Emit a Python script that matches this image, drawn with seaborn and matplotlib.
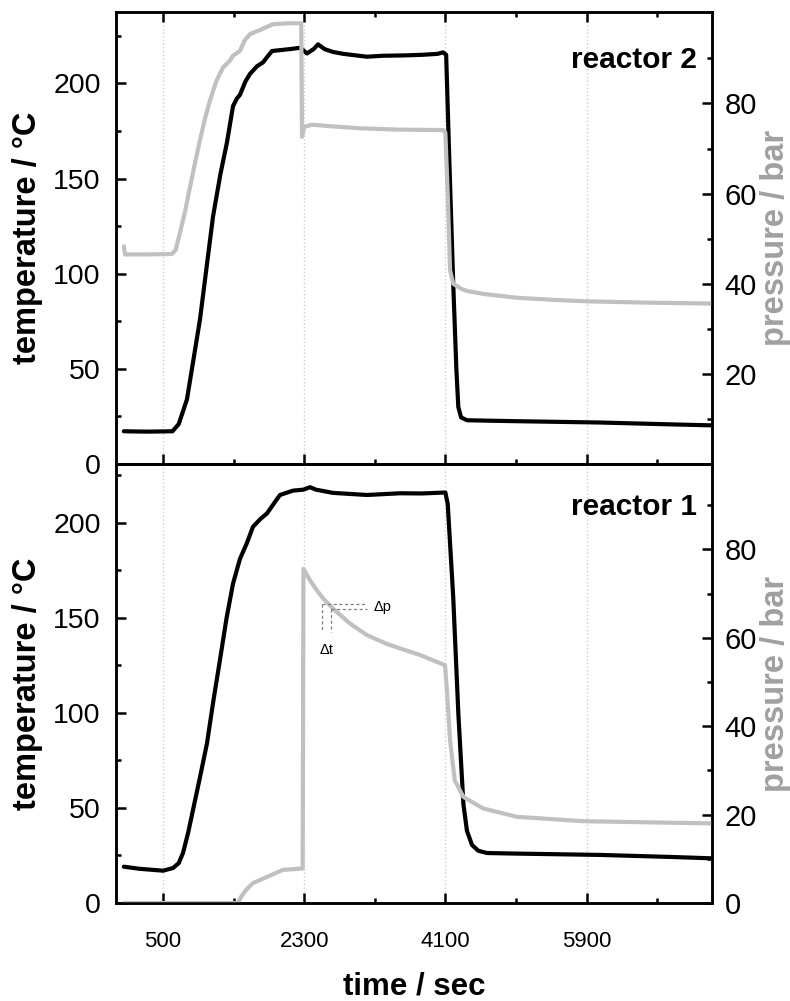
import matplotlib
matplotlib.use("Agg")
import matplotlib.pyplot as plt
import seaborn as sns
from matplotlib.ticker import FixedLocator

# reactor 2 (upper panel)
r2_time_T = [0, 300, 620, 700, 805, 900, 971, 1060, 1137, 1230, 1315, 1392, 1440, 1481,
             1550, 1609, 1698, 1774, 1830, 1889, 2000, 2118, 2246, 2300, 2335, 2420, 2476,
             2560, 2667, 2800, 3100, 3300, 3577, 3800, 4000, 4070, 4110, 4150, 4200, 4240,
             4265, 4300, 4375, 4600, 5000, 6071, 7000, 7500]
r2_temp = [17.2, 17.0, 17.2, 21.0, 34.0, 58.0, 76.0, 105.0, 130.0, 152.0, 169.0, 188.0, 192.0,
           194.0, 201.0, 205.0, 209.0, 211.0, 214.0, 217.0, 217.5, 218.0, 218.7, 217.0, 215.7,
           218.0, 220.5, 218.0, 216.5, 215.5, 214.0, 214.5, 214.7, 215.0, 215.5, 216.3, 215.0,
           160.0, 95.0, 50.0, 30.0, 24.5, 23.0, 22.8, 22.5, 21.8, 20.8, 20.3]
r2_time_p = [0, 15, 300, 612, 660, 716, 780, 844, 910, 971, 1040, 1099, 1180, 1265, 1353,
             1392, 1481, 1540, 1609, 1736, 1902, 2100, 2262, 2272, 2300, 2400, 2600, 3000,
             3500, 4070, 4100, 4130, 4160, 4200, 4300, 4375, 4600, 5010, 5500, 5900, 6700, 7500]
r2_press = [48.3, 46.5, 46.5, 46.6, 47.5, 51.3, 56.0, 61.5, 67.0, 71.9, 77.0, 80.7, 85.0, 88.0,
            89.5, 90.6, 91.7, 94.0, 95.4, 96.3, 97.6, 97.8, 97.8, 72.6, 74.8, 75.3, 75.0, 74.5,
            74.2, 74.1, 73.5, 60.0, 43.0, 40.0, 38.9, 38.4, 37.7, 36.9, 36.4, 36.1, 35.8, 35.6]

# reactor 1 (lower panel)
r1_time_T = [0, 200, 500, 627, 700, 754, 820, 882, 970, 1060, 1140, 1226, 1310, 1392, 1480,
             1570, 1647, 1740, 1825, 1910, 1991, 2157, 2290, 2374, 2450, 2667, 3100, 3521,
             3800, 4100, 4130, 4200, 4265, 4330, 4375, 4440, 4520, 4630, 5000, 6071, 7000, 7500]
r1_temp = [19.1, 18.0, 17.0, 18.4, 21.0, 26.3, 37.0, 49.0, 66.0, 84.0, 106.0, 128.0, 150.0,
           168.0, 181.0, 189.5, 198.0, 202.0, 205.0, 210.0, 214.7, 217.0, 217.5, 218.8, 217.5,
           215.8, 214.7, 215.6, 215.5, 216.0, 210.0, 161.0, 100.0, 52.0, 38.0, 30.5, 27.5,
           26.3, 26.0, 25.3, 24.2, 23.5]
r1_time_p = [0, 1456, 1500, 1560, 1647, 1825, 2029, 2280, 2290, 2374, 2450, 2540, 2667, 2884,
             3100, 3355, 3521, 3776, 4095, 4120, 4160, 4220, 4330, 4580, 5010, 5860, 7500]
r1_press = [0.0, 0.0, 1.5, 3.0, 4.5, 5.9, 7.5, 7.8, 75.6, 73.0, 71.0, 68.9, 66.6, 63.2, 60.6,
            58.6, 57.6, 56.1, 53.8, 48.0, 36.8, 27.7, 24.0, 21.4, 19.5, 18.5, 18.0]

x_major = [500, 2300, 4100, 5900]
x_minor = [1400, 3200, 5000, 6800]
t_major = [0, 50, 100, 150, 200]
t_minor = [25, 75, 125, 175, 225]
p_major_top = [20, 40, 60, 80]
p_major_bot = [0, 20, 40, 60, 80]
p_minor = [10, 30, 50, 70, 90]

# delta p / delta t marker on reactor 1 pressure curve
dp_t = [2530, 2636]
dp_p = [67.7, 66.4]
dp_end = 3100
dt_low = 61.2

sns.set_theme(style="ticks")
plt.rcParams["font.family"] = ["Liberation Sans", "DejaVu Sans"]
plt.rcParams.update({"text.color": "black", "axes.labelcolor": "black",
                     "xtick.color": "black", "ytick.color": "black",
                     "axes.edgecolor": "black"})

BLACK = "#000000"
GRAY = "#c0c0c0"
LABEL_GRAY = "#a0a0a0"

fig = plt.figure(figsize=(7.9, 10.01), dpi=100)
ax_top = fig.add_axes([0.14684, 0.53646, 0.75443, 0.45155])
ax_bot = fig.add_axes([0.14684, 0.09790, 0.75443, 0.43856], sharex=ax_top)


def panel(ax, t_T, temp, t_p, press, tlim, plim, p_major, name, name_y, top_ticks):
    tw = ax.twinx()
    sns.lineplot(x=t_T, y=temp, ax=ax, color=BLACK, lw=3.0, sort=False, estimator=None)
    sns.lineplot(x=t_p, y=press, ax=tw, color=GRAY, lw=3.0, sort=False, estimator=None)
    ax.set_xlim(-100, 7500)
    ax.set_ylim(*tlim)
    tw.set_ylim(*plim)

    ax.xaxis.set_major_locator(FixedLocator(x_major))
    ax.xaxis.set_minor_locator(FixedLocator(x_minor))
    ax.yaxis.set_major_locator(FixedLocator(t_major))
    ax.yaxis.set_minor_locator(FixedLocator(t_minor))
    tw.yaxis.set_major_locator(FixedLocator(p_major))
    tw.yaxis.set_minor_locator(FixedLocator(p_minor))

    ax.grid(axis="x", which="major", color="#cfcfcf", linestyle=":", lw=1.0)

    for a in (ax, tw):
        for s in a.spines.values():
            s.set_linewidth(1.8)
            s.set_color(BLACK)
    ax.tick_params(axis="both", which="both", direction="in", width=1.8, color=BLACK,
                   labelcolor=BLACK)
    ax.tick_params(axis="both", which="major", length=7)
    ax.tick_params(axis="both", which="minor", length=3.5)
    ax.tick_params(axis="x", which="both", top=top_ticks, bottom=True)
    ax.tick_params(axis="x", which="major", labelsize=16, pad=20)
    ax.tick_params(axis="y", which="major", labelsize=20.5, pad=11)
    tw.tick_params(axis="y", which="both", direction="in", width=1.8, color=BLACK,
                   labelcolor=BLACK)
    tw.tick_params(axis="y", which="major", length=7, labelsize=21, pad=9)
    tw.tick_params(axis="y", which="minor", length=3.5)

    ax.set_ylabel("temperature / °C", fontsize=23.5, fontweight="bold", va="center")
    ax.yaxis.set_label_coords(-0.149, 0.5)
    tw.set_ylabel("pressure / bar", fontsize=23.5, fontweight="bold", color=LABEL_GRAY,
                  va="center")
    tw.yaxis.set_label_coords(1.106, 0.5)

    ax.text(0.975, name_y, name, transform=ax.transAxes, ha="right", va="center",
            fontsize=21.5, fontweight="bold")
    return tw


tw_top = panel(ax_top, r2_time_T, r2_temp, r2_time_p, r2_press, (0, 237.5), (0, 100.3),
               p_major_top, "reactor 2", 0.894, True)
tw_bot = panel(ax_bot, r1_time_T, r1_temp, r1_time_p, r1_press, (0, 231), (0, 99.3),
               p_major_bot, "reactor 1", 0.902, False)

ax_top.tick_params(axis="x", labelbottom=False)
ax_bot.set_xlabel("time / sec", fontsize=22.5, fontweight="bold", va="center")
ax_bot.xaxis.set_label_coords(0.5, -0.19)

# delta p / delta t construction
ann = dict(color="#808080", lw=0.9, linestyle=(0, (2.5, 2)))
for tt, pp in zip(dp_t, dp_p):
    tw_bot.plot([tt, dp_end], [pp, pp], **ann)
    tw_bot.plot([tt, tt], [pp, dt_low], **ann)
tw_bot.text(dp_end + 80, sum(dp_p) / 2, "Δp", fontsize=10.5, ha="left", va="center")
tw_bot.text(sum(dp_t) / 2, 57.2, "Δt", fontsize=10.5, ha="center", va="center")

fig.savefig("out.png", dpi=100)
